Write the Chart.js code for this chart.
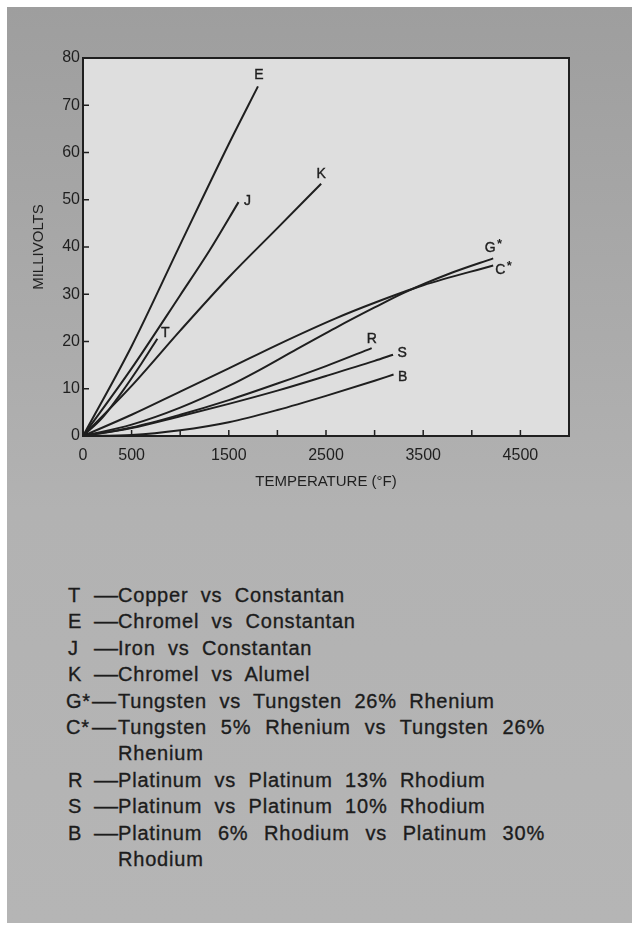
<!DOCTYPE html>
<html>
<head>
<meta charset="utf-8">
<script src="https://cdn.jsdelivr.net/npm/chart.js@4.4.1/dist/chart.umd.min.js"></script>
<style>
  html, body { margin: 0; padding: 0; background: #fff; }
  body { width: 638px; height: 928px; position: relative; overflow: hidden; font-family: "Liberation Sans", Arial, sans-serif; }
  #panel { position: absolute; left: 7px; top: 7px; width: 625px; height: 916px;
           background: linear-gradient(#9e9e9e, #b2b2b2 55%, #b5b5b5); }
  #chartBox { position: absolute; left: 0; top: 0; width: 638px; height: 500px; }
  .row { position: absolute; left: 0; height: 26px; line-height: 26px; font-size: 20px; color: #1c1c1c;
         white-space: nowrap; letter-spacing: 0.8px; word-spacing: 6px; -webkit-text-stroke: 0.35px #1c1c1c; }
  .row span { position: absolute; top: 0; }
  .dash { transform: scaleX(1.2); transform-origin: left center; letter-spacing: 0; }
  .just { width: 427px; text-align: justify; text-align-last: justify; white-space: normal; }
</style>
</head>
<body>
<div id="panel"></div>
<div id="chartBox"><canvas id="thermoChart"></canvas></div>
<div id="legendBox"></div>
<script>
// thermocouple curves, [temperature °F, millivolts]
const seriesT = [[0, 0], [200, 3.9], [400, 9.3], [600, 15.3], [765, 20.6]];
const seriesE = [[0, 0], [500, 19.0], [1000, 40.5], [1500, 61.8], [1800, 74]];
const seriesJ = [[0, 0], [500, 14.3], [1000, 29.8], [1300, 39.2], [1600, 49.5]];
const seriesK = [[0, 0], [500, 10.6], [1000, 22.3], [1500, 33.6], [2000, 44.0], [2450, 53.4]];
const seriesG = [[0, 0], [500, 2.4], [1000, 6.0], [1500, 10.6], [1800, 13.8], [2200, 18.4], [2600, 22.9],
                 [3000, 27.2], [3300, 30.3], [3800, 34.6], [4220, 37.6]];
const seriesC = [[0, 0], [500, 4.5], [1000, 9.4], [1500, 14.3], [2000, 19.3], [2600, 24.9],
                 [3000, 28.2], [3500, 31.9], [4220, 36.1]];
const seriesR = [[0, 0], [500, 1.8], [1000, 4.5], [1500, 7.6], [2000, 11.1], [2500, 14.8], [2970, 18.6]];
const seriesS = [[0, 0], [500, 1.7], [1000, 4.2], [1500, 6.8], [2000, 9.6], [2500, 12.7], [3000, 15.9], [3190, 17.2]];
const seriesB = [[0, 0], [500, 0.2], [1000, 1.2], [1500, 2.9], [2000, 5.5], [2500, 8.5], [3000, 11.7], [3195, 13.0]];

const curveLabels = ['T', 'E', 'J', 'K', 'G*', 'C*', 'R', 'S', 'B'];
const curveData = [seriesT, seriesE, seriesJ, seriesK, seriesG, seriesC, seriesR, seriesS, seriesB];
// where the letter sits relative to the curve end (px)
const labelOffsets = [[8, -6], [1, -11], [9, -1], [0, -10], [-3, -10], [7, 5], [0, -9], [9, -2], [9, 3]];

const xTickValues = [0, 500, 1500, 2500, 3500, 4500]; // labelled ticks
const legendKeys = ['T', 'E', 'J', 'K', 'G*', 'C*', 'R', 'S', 'B'];
const legendNames = [
  'Copper vs Constantan',
  'Chromel vs Constantan',
  'Iron vs Constantan',
  'Chromel vs Alumel',
  'Tungsten vs Tungsten 26% Rhenium',
  'Tungsten 5% Rhenium vs Tungsten 26%|Rhenium',
  'Platinum vs Platinum 13% Rhodium',
  'Platinum vs Platinum 10% Rhodium',
  'Platinum 6% Rhodium vs Platinum 30%|Rhodium'
];

const ink = '#1f1f1f';

const plotFrame = {
  id: 'plotFrame',
  beforeDraw(chart) {
    const {ctx, chartArea: a} = chart;
    ctx.save();
    ctx.fillStyle = '#dedede';
    ctx.fillRect(a.left, a.top, a.right - a.left, a.bottom - a.top);
    ctx.restore();
  },
  afterDatasetsDraw(chart) {
    const {ctx, chartArea: a, scales} = chart;
    ctx.save();
    ctx.strokeStyle = ink;
    ctx.lineWidth = 2;
    ctx.strokeRect(a.left, a.top, a.right - a.left, a.bottom - a.top);

    // inward tick marks
    ctx.lineWidth = 1.5;
    ctx.beginPath();
    scales.x.ticks.forEach(t => {
      if (t.value <= scales.x.min || t.value >= scales.x.max) return;
      const px = scales.x.getPixelForValue(t.value);
      ctx.moveTo(px, a.bottom);
      ctx.lineTo(px, a.bottom - 6);
    });
    scales.y.ticks.forEach(t => {
      if (t.value <= scales.y.min || t.value >= scales.y.max) return;
      const py = scales.y.getPixelForValue(t.value);
      ctx.moveTo(a.left, py);
      ctx.lineTo(a.left + 6, py);
    });
    ctx.stroke();

    // curve letters at line ends
    ctx.fillStyle = ink;
    ctx.strokeStyle = ink;
    ctx.lineWidth = 0.4;
    ctx.textAlign = 'center';
    ctx.textBaseline = 'middle';
    chart.data.datasets.forEach((ds, i) => {
      const pts = chart.getDatasetMeta(i).data;
      const end = pts[pts.length - 1];
      const [dx, dy] = labelOffsets[i];
      const txt = curveLabels[i];
      const letter = txt.replace('*', '');
      ctx.font = '14px "Liberation Sans", Arial, sans-serif';
      ctx.fillText(letter, end.x + dx, end.y + dy);
      ctx.strokeText(letter, end.x + dx, end.y + dy);
      if (txt.endsWith('*')) {
        const w = ctx.measureText(letter).width;
        ctx.font = 'bold 13px "Liberation Sans", Arial, sans-serif';
        ctx.fillText('*', end.x + dx + w / 2 + 4, end.y + dy - 4);
      }
    });
    ctx.restore();
  }
};

const ctx = document.getElementById('thermoChart');

new Chart(ctx, {
  type: 'scatter',
  data: {
    datasets: curveData.map((s, i) => ({
      label: legendKeys[i],
      data: s.map(p => ({x: p[0], y: p[1]})),
      showLine: true,
      borderColor: ink,
      borderWidth: 2,
      pointRadius: 0,
      cubicInterpolationMode: 'monotone'
    }))
  },
  options: {
    responsive: true,
    maintainAspectRatio: false,
    animation: false,
    layout: { padding: { top: 58, right: 69, bottom: 0, left: 0 } },
    plugins: {
      legend: { display: false },
      tooltip: { enabled: false }
    },
    scales: {
      x: {
        type: 'linear',
        min: 0,
        max: 5000,
        afterFit(scale) { scale.height = 64; },
        grid: { display: false, drawTicks: false },
        border: { display: false },
        ticks: {
          stepSize: 500,
          autoSkip: false,
          maxRotation: 0,
          padding: 10,
          color: ink,
          font: { family: '"Liberation Sans", Arial, sans-serif', size: 16 },
          callback: v => xTickValues.includes(v) ? String(v) : ''
        },
        title: {
          display: true,
          text: 'TEMPERATURE (°F)',
          color: ink,
          font: { family: '"Liberation Sans", Arial, sans-serif', size: 15 },
          padding: { top: 0, bottom: 9 }
        }
      },
      y: {
        min: 0,
        max: 80,
        afterFit(scale) { scale.width = 83; },
        grid: { display: false, drawTicks: false },
        border: { display: false },
        ticks: {
          stepSize: 10,
          padding: 3,
          color: ink,
          font: { family: '"Liberation Sans", Arial, sans-serif', size: 16 }
        },
        title: {
          display: true,
          text: 'MILLIVOLTS',
          color: ink,
          font: { family: '"Liberation Sans", Arial, sans-serif', size: 15 },
          padding: { top: 30, bottom: 0 }
        }
      }
    }
  },
  plugins: [plotFrame]
});

// key below the chart
const box = document.getElementById('legendBox');
let line = 0;
const firstCenter = 595, step = 26.4;
legendKeys.forEach((k, i) => {
  const parts = legendNames[i].split('|');
  parts.forEach((p, j) => {
    const row = document.createElement('div');
    row.className = 'row';
    row.style.top = (firstCenter + step * line - 13) + 'px';
    row.style.width = '638px';
    if (j === 0) {
      const key = document.createElement('span');
      key.textContent = k;
      key.style.left = (k.length > 1 ? 66 : 68) + 'px';
      row.appendChild(key);
      const dash = document.createElement('span');
      dash.className = 'dash';
      dash.textContent = '—';
      dash.style.left = (k.length > 1 ? 92 : 94) + 'px';
      row.appendChild(dash);
    }
    const txt = document.createElement('span');
    txt.textContent = p;
    txt.style.left = '118px';
    if (parts.length > 1 && j === 0) txt.className = 'just';
    row.appendChild(txt);
    box.appendChild(row);
    line++;
  });
});
</script>
</body>
</html>
